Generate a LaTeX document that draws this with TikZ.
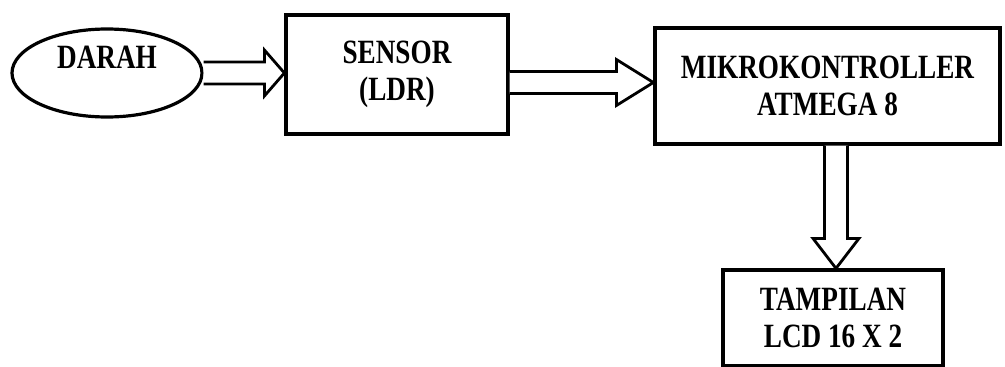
\documentclass[tikz,border=0pt]{standalone}
\usepackage{fontspec}
\usetikzlibrary{shapes.geometric,calc}
\setmainfont{Liberation Serif}
\newcommand\sq[1]{\scalebox{0.8}[1]{#1}}
\tikzset{
  boxstyle/.style={draw=black, line width=3.2pt, rectangle, inner sep=0pt, align=center,
    font=\bfseries\fontsize{34}{37}\selectfont},
  ovalstyle/.style={draw=black, line width=3.2pt, ellipse, inner sep=0pt},
  txtstyle/.style={inner sep=0pt, font=\bfseries\fontsize{34}{37}\selectfont},
  hollow/.style={draw=black, line width=2.8pt, line join=miter, fill=white}
}
\newcommand\rightarrowpath[3]{%
  \draw[hollow] ($(#1)+(0,-11)$) -- ($(#2)+(-#3,-11)$) -- ($(#2)+(-#3,-23)$) -- (#2)
    -- ($(#2)+(-#3,23)$) -- ($(#2)+(-#3,11)$) -- ($(#1)+(0,11)$);}
\newcommand\downarrowpath[3]{%
  \draw[hollow] ($(#1)+(-11.5,0)$) -- ($(#2)+(-11.5,-#3)$) -- ($(#2)+(-23,-#3)$) -- (#2)
    -- ($(#2)+(23,-#3)$) -- ($(#2)+(11.5,-#3)$) -- ($(#1)+(11.5,0)$);}
\begin{document}
\begin{tikzpicture}[x=1pt,y=-1pt]
\useasboundingbox (0,0) rectangle (1005,367);
\node[ovalstyle, minimum width=190pt, minimum height=88pt] (darah) at (107,73) {};
\node[txtstyle] (darahtext) at (107,57) {\sq{DARAH}};
\node[boxstyle, minimum width=222pt, minimum height=119pt] (sensor) at (397,74.5) {\sq{SENSOR}\\\sq{(LDR)}};
\node[boxstyle, minimum width=345pt, minimum height=116pt] (micro) at (827.5,86) {\sq{MIKROKONTROLLER}\\\sq{ATMEGA 8}};
\node[boxstyle, minimum width=220pt, minimum height=96pt] (lcd) at (833,318) {\sq{TAMPILAN}\\\sq{LCD 16 X 2}};
\coordinate (a1s) at (darah.east);
\coordinate (a1e) at (sensor.west |- a1s);
\rightarrowpath{a1s}{a1e}{20}
\coordinate (a2s) at ($(sensor.east)+(0,8)$);
\coordinate (a2e) at (micro.west |- a2s);
\rightarrowpath{a2s}{a2e}{37}
\coordinate (a3s) at ($(micro.south)+(8.5,0)$);
\coordinate (a3e) at (a3s |- lcd.north);
\downarrowpath{a3s}{a3e}{30}
\end{tikzpicture}
\end{document}
